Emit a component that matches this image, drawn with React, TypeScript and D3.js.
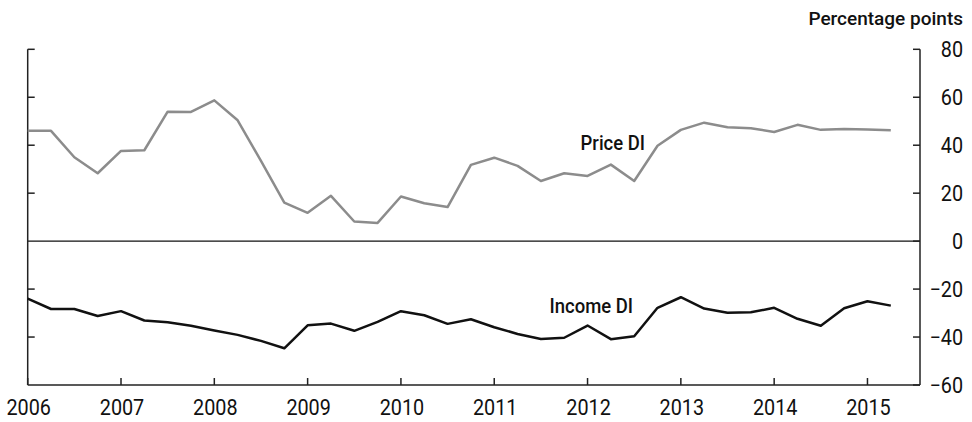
import React from "react";
import * as d3 from "d3";

const startYear = 2006;
const priceDI = [46.0, 46.0, 35.0, 28.3, 37.6, 37.9, 54.0, 53.9, 58.7, 50.4, 33.5, 16.1, 11.8, 18.9, 8.2, 7.6, 18.6, 15.8, 14.2, 31.8, 34.8, 31.4, 25.1, 28.3, 27.2, 31.9, 25.1, 39.8, 46.4, 49.4, 47.5, 47.1, 45.5, 48.5, 46.4, 46.8, 46.6, 46.2];
const incomeDI = [-24.0, -28.3, -28.3, -31.2, -29.2, -33.1, -33.8, -35.3, -37.3, -39.1, -41.6, -44.7, -35.1, -34.4, -37.4, -33.7, -29.2, -30.9, -34.5, -32.6, -35.9, -38.7, -40.8, -40.3, -35.2, -40.9, -39.7, -27.8, -23.4, -28.1, -29.9, -29.7, -27.8, -32.4, -35.3, -28.0, -25.1, -26.9];
const yearTicks = [2006, 2007, 2008, 2009, 2010, 2011, 2012, 2013, 2014, 2015];
const valueTicks = [80, 60, 40, 20, 0, -20, -40, -60];
const leftTicks = [80, 60, 40, 20, -20, -40];
const seriesLabels = ["Price DI", "Income DI"];
const unitLabel = "Percentage points";

const W = 972;
const H = 422;
const FONT = "Roboto, 'Liberation Sans', sans-serif";

function CText(props: {
  x: number;
  y: number;
  anchor: "start" | "middle" | "end";
  size: number;
  sx: number;
  weight?: number;
  children: React.ReactNode;
}) {
  return (
    <text
      transform={`translate(${props.x},${props.y}) scale(${props.sx},1)`}
      textAnchor={props.anchor}
      fontSize={props.size}
      fontWeight={props.weight ?? 400}
      fill="#111"
    >
      {props.children}
    </text>
  );
}

export default function App() {
  const x = d3.scaleLinear().domain([2006, 2015.563]).range([27.7, 920]);
  const y = d3.scaleLinear().domain([-60, 80]).range([385, 49.3]);
  const line = d3
    .line<number>()
    .x((_, i) => x(startYear + i / 4))
    .y((d) => y(d));
  const x0 = x(2006);
  const x1 = x.range()[1];
  const axisColor = "#222";

  return (
    <svg
      width={W}
      height={H}
      style={{ position: "absolute", left: 0, top: 0, background: "#fff" }}
      fontFamily={FONT}
    >
      {/* zero line */}
      <line x1={x0} x2={x1} y1={y(0)} y2={y(0)} stroke="#111" strokeWidth={1.4} />
      {/* left axis */}
      <line x1={x0} x2={x0} y1={y(80)} y2={y(-60)} stroke={axisColor} strokeWidth={1.5} />
      {leftTicks.map((t) => (
        <line key={"l" + t} x1={x0} x2={x0 + 7} y1={y(t)} y2={y(t)} stroke={axisColor} strokeWidth={1.5} />
      ))}
      {/* right axis */}
      <line x1={x1} x2={x1} y1={y(80)} y2={y(-60)} stroke={axisColor} strokeWidth={1.5} />
      {valueTicks.map((t) => (
        <g key={"r" + t}>
          <line x1={x1 - 7} x2={x1} y1={y(t)} y2={y(t)} stroke={axisColor} strokeWidth={1.5} />
          <CText x={963} y={y(t) + 8} anchor="end" size={22} sx={0.9}>
            {t < 0 ? "\u2212" + Math.abs(t) : String(t)}
          </CText>
        </g>
      ))}
      {/* bottom axis */}
      <line x1={x0} x2={x1} y1={y(-60)} y2={y(-60)} stroke={axisColor} strokeWidth={1.5} />
      {yearTicks.map((t) => (
        <g key={"x" + t}>
          <line x1={x(t)} x2={x(t)} y1={y(-60)} y2={y(-60) - 7} stroke={axisColor} strokeWidth={1.5} />
          <CText x={x(t) + 1} y={415} anchor="middle" size={22} sx={0.9}>
            {t}
          </CText>
        </g>
      ))}
      {/* series */}
      <path d={line(priceDI) || ""} fill="none" stroke="#8c8c8c" strokeWidth={2.5} strokeLinejoin="round" />
      <path d={line(incomeDI) || ""} fill="none" stroke="#111" strokeWidth={2.5} strokeLinejoin="round" />
      {/* labels */}
      <CText x={645} y={150} anchor="end" size={21} sx={0.88} weight={500}>
        {seriesLabels[0]}
      </CText>
      <CText x={633} y={313} anchor="end" size={21} sx={0.88} weight={500}>
        {seriesLabels[1]}
      </CText>
      <CText x={963} y={25} anchor="end" size={19} sx={1} weight={500}>
        {unitLabel}
      </CText>
    </svg>
  );
}
